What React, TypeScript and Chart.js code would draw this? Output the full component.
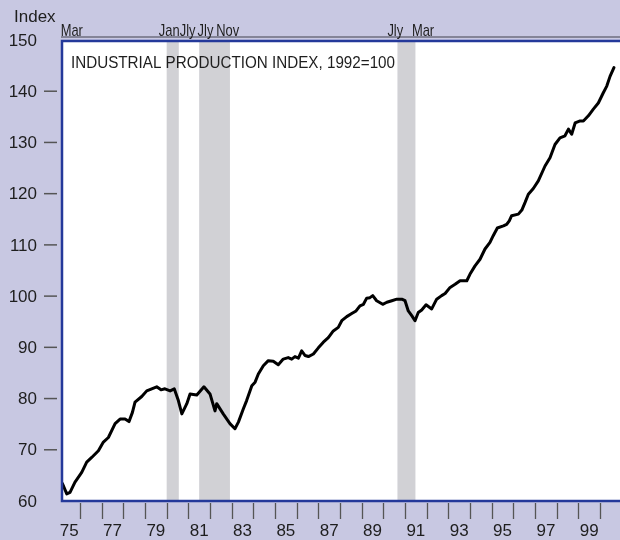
import React, { useEffect, useRef } from "react";
import { Chart, registerables } from "chart.js";

Chart.register(...registerables);

// ---- data (decimal years / index, 1992=100) ----
const dates = [
  1975.19, 1975.39, 1975.54, 1975.77, 1976.08, 1976.31, 1976.54, 1976.85, 1977.08, 1977.31,
  1977.62, 1977.85, 1978.08, 1978.26, 1978.42, 1978.54, 1978.85, 1979.08, 1979.31, 1979.54,
  1979.74, 1979.92, 1980.16, 1980.35, 1980.54, 1980.7, 1980.93, 1981.08, 1981.39, 1981.72,
  1982.0, 1982.23, 1982.31, 1982.61, 1982.92, 1983.15, 1983.31, 1983.54, 1983.69, 1983.93,
  1984.08, 1984.23, 1984.46, 1984.69, 1984.92, 1985.15, 1985.38, 1985.61, 1985.77, 1985.92,
  1986.08, 1986.23, 1986.39, 1986.54, 1986.77, 1987.0, 1987.23, 1987.46, 1987.69, 1987.92,
  1988.08, 1988.31, 1988.54, 1988.74, 1988.92, 1989.08, 1989.23, 1989.38, 1989.51, 1989.69,
  1989.97, 1990.16, 1990.39, 1990.62, 1990.85, 1991.0, 1991.15, 1991.31, 1991.46, 1991.61,
  1991.77, 1991.97, 1992.23, 1992.46, 1992.69, 1992.85, 1993.08, 1993.31, 1993.54, 1993.85,
  1994.0, 1994.23, 1994.46, 1994.69, 1994.92, 1995.07, 1995.26, 1995.54, 1995.69, 1995.81,
  1995.92, 1996.23, 1996.39, 1996.54, 1996.69, 1996.92, 1997.15, 1997.46, 1997.69, 1997.92,
  1998.15, 1998.38, 1998.54, 1998.69, 1998.85, 1999.08, 1999.23, 1999.46, 1999.69, 1999.92,
  2000.15, 2000.31, 2000.46, 2000.64,
];
const ipIndex = [
  63.4, 61.4, 61.7, 63.7, 65.6, 67.6, 68.5, 69.8, 71.5, 72.4,
  75.1, 76.0, 76.0, 75.5, 77.3, 79.3, 80.4, 81.5, 81.9, 82.3,
  81.7, 81.9, 81.5, 81.9, 79.6, 77.0, 79.0, 80.9, 80.7, 82.3,
  80.9, 77.6, 79.0, 77.0, 75.1, 74.1, 75.4, 78.0, 79.6, 82.5,
  83.2, 84.8, 86.4, 87.4, 87.3, 86.6, 87.7, 88.0, 87.7, 88.2,
  87.9, 89.3, 88.4, 88.2, 88.7, 89.9, 91.0, 91.9, 93.2, 93.9,
  95.2, 96.0, 96.6, 97.1, 98.1, 98.4, 99.6, 99.7, 100.1, 99.1,
  98.4, 98.8, 99.1, 99.4, 99.4, 99.1, 97.1, 96.2, 95.2, 96.8,
  97.3, 98.3, 97.5, 99.4, 100.1, 100.5, 101.7, 102.3, 103.0, 103.0,
  104.3, 105.9, 107.2, 109.2, 110.5, 111.8, 113.3, 113.7, 114.0, 114.7,
  115.7, 116.0, 116.8, 118.3, 119.9, 121.0, 122.5, 125.4, 127.0, 129.6,
  130.9, 131.3, 132.6, 131.6, 133.8, 134.2, 134.2, 135.2, 136.5, 137.7,
  139.7, 141.0, 142.9, 144.6,
];

const recessionStart = [1980.0, 1981.5, 1990.65];
const recessionEnd = [1980.56, 1982.92, 1991.48];

const yTicks = [60, 70, 80, 90, 100, 110, 120, 130, 140, 150];
const xTickYears = [
  1976, 1977, 1978, 1979, 1980, 1981, 1982, 1983, 1984, 1985, 1986, 1987, 1988,
  1989, 1990, 1991, 1992, 1993, 1994, 1995, 1996, 1997, 1998, 1999, 2000,
];
const xLabelYears = [1975, 1977, 1979, 1981, 1983, 1985, 1987, 1989, 1991, 1993, 1995, 1997, 1999];
const xLabels = ["75", "77", "79", "81", "83", "85", "87", "89", "91", "93", "95", "97", "99"];

const turnLabels = ["Mar", "Jan", "Jly", "Jly", "Nov", "Jly", "Mar"];
const turnLabelAt = [1975.62, 1980.12, 1980.97, 1981.79, 1982.82, 1990.55, 1991.83];

const titleText = "INDUSTRIAL PRODUCTION INDEX, 1992=100";
const yAxisTitle = "Index";

const BG = "#c8c8e2";
const SHADE = "#d1d1d5";
const FRAME = "#24399a";
const INK = "#1e1e1e";
const TICK = "#555555";
const FONT = "'Liberation Sans', Arial, Helvetica, sans-serif";

const decorPlugin = {
  id: "decor",
  beforeDraw(chart: any) {
    const { ctx, chartArea, width, height } = chart;
    const xs = chart.scales.x;
    ctx.save();
    ctx.fillStyle = BG;
    ctx.fillRect(0, 0, width, height);
    ctx.fillStyle = "#ffffff";
    ctx.fillRect(chartArea.left, chartArea.top, chartArea.right - chartArea.left, chartArea.bottom - chartArea.top);
    ctx.fillStyle = SHADE;
    for (let i = 0; i < recessionStart.length; i++) {
      const x0 = xs.getPixelForValue(recessionStart[i]);
      const x1 = xs.getPixelForValue(recessionEnd[i]);
      ctx.fillRect(x0, chartArea.top, x1 - x0, chartArea.bottom - chartArea.top);
    }
    ctx.restore();
  },
  afterDraw(chart: any) {
    const { ctx, chartArea } = chart;
    const xs = chart.scales.x;
    const ys = chart.scales.y;
    ctx.save();

    // frame
    ctx.strokeStyle = "#6e6e7e";
    ctx.lineWidth = 1.5;
    ctx.beginPath();
    ctx.moveTo(chartArea.left - 1, chartArea.top - 3);
    ctx.lineTo(chartArea.right + 2, chartArea.top - 3);
    ctx.stroke();
    ctx.strokeStyle = FRAME;
    ctx.lineWidth = 2.5;
    ctx.strokeRect(chartArea.left, chartArea.top + 1, chartArea.right - chartArea.left + 4, chartArea.bottom - chartArea.top - 1);

    // y ticks and labels
    ctx.strokeStyle = TICK;
    ctx.lineWidth = 1.5;
    ctx.fillStyle = INK;
    ctx.font = "17px " + FONT;
    ctx.textAlign = "right";
    ctx.textBaseline = "middle";
    yTicks.forEach((v) => {
      const y = ys.getPixelForValue(v);
      if (v !== 60 && v !== 150) {
        ctx.beginPath();
        ctx.moveTo(chartArea.left - 18, y);
        ctx.lineTo(chartArea.left - 5, y);
        ctx.stroke();
      }
      ctx.fillText(String(v), chartArea.left - 25, y + 1);
    });
    ctx.textAlign = "left";
    ctx.textBaseline = "alphabetic";
    ctx.fillText(yAxisTitle, 14, 22);

    // x ticks and labels
    ctx.lineWidth = 1.3;
    xTickYears.forEach((yr) => {
      const x = Math.round(xs.getPixelForValue(yr)) + 0.5;
      ctx.beginPath();
      ctx.moveTo(x, chartArea.bottom + 2);
      ctx.lineTo(x, chartArea.bottom + 18);
      ctx.stroke();
    });
    ctx.textAlign = "center";
    xLabelYears.forEach((yr, i) => {
      const x = xs.getPixelForValue(yr + 0.5);
      ctx.fillText(xLabels[i], x, chartArea.bottom + 35);
    });

    // turning-point labels above the frame
    ctx.font = "17px " + FONT;
    turnLabels.forEach((t, i) => {
      const x = xs.getPixelForValue(turnLabelAt[i]);
      const w = ctx.measureText(t).width;
      ctx.fillText(t, x, chartArea.top - 4, w * 0.76);
    });

    // title inside the plot
    ctx.font = "17px " + FONT;
    ctx.textAlign = "left";
    ctx.fillText(titleText, chartArea.left + 9, chartArea.top + 28, 324);

    ctx.restore();
  },
};

export default function App() {
  const ref = useRef<HTMLCanvasElement | null>(null);

  useEffect(() => {
    if (!ref.current) return;
    const points = dates.map((d, i) => ({ x: d, y: ipIndex[i] }));
    const chart = new Chart(ref.current, {
      type: "line",
      data: {
        datasets: [
          {
            label: "Industrial production index",
            data: points,
            borderColor: "#000000",
            borderWidth: 3,
            pointRadius: 0,
            tension: 0,
            fill: false,
            borderJoinStyle: "round",
            borderCapStyle: "round",
          },
        ],
      },
      options: {
        responsive: false,
        animation: false,
        events: [],
        layout: { padding: { left: 62, top: 40, right: 0, bottom: 39 } },
        scales: {
          x: { type: "linear", min: 1975.17, max: 2000.92, display: false },
          y: { type: "linear", min: 60, max: 150, display: false },
        },
        plugins: {
          legend: { display: false },
          tooltip: { enabled: false },
        },
      },
      plugins: [decorPlugin],
    });
    return () => chart.destroy();
  }, []);

  return (
    <div style={{ position: "absolute", left: 0, top: 0, width: 620, height: 540 }}>
      <canvas ref={ref} width={620} height={540} style={{ display: "block" }} />
    </div>
  );
}
